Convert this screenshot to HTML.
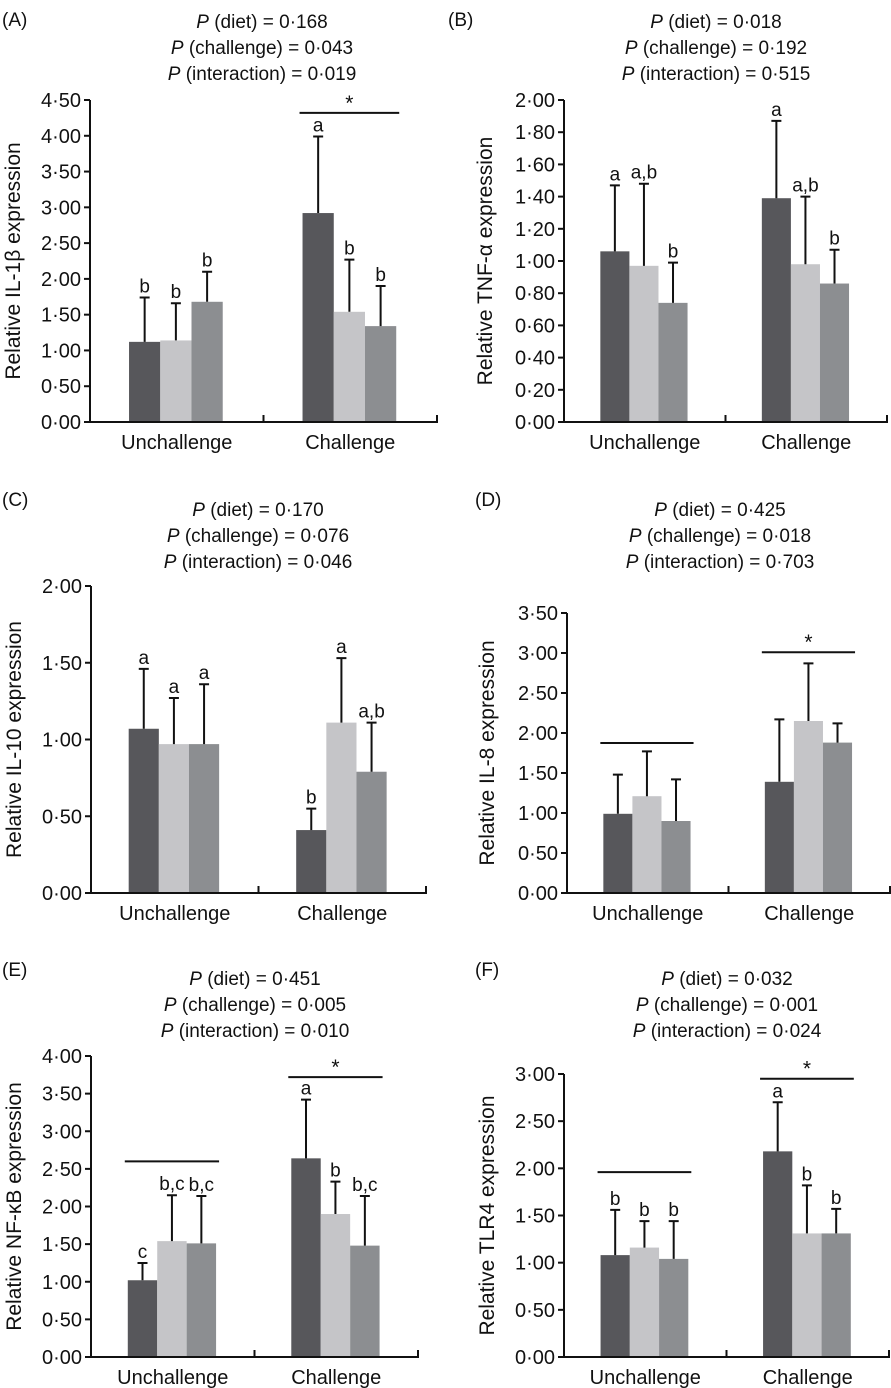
<!DOCTYPE html>
<html><head><meta charset="utf-8">
<style>
html,body{margin:0;padding:0;background:#fff;}
svg{display:block;font-family:"Liberation Sans",Arial,sans-serif;}
</style></head>
<body>
<svg id="fig" width="891" height="1388" viewBox="0 0 891 1388" xmlns="http://www.w3.org/2000/svg"></svg>
<script>
// ---- data ----
const categories = ["Unchallenge", "Challenge"];
const aMeans = [1.12, 1.14, 1.68, 2.92, 1.54, 1.34];
const aUpper = [1.74, 1.66, 2.10, 3.99, 2.27, 1.90];
const aLetters = ["b","b","b","a","b","b"];
const aTicks = ["0·00","0·50","1·00","1·50","2·00","2·50","3·00","3·50","4·00","4·50"];
const aPvals = ["0·168","0·043","0·019"];

const bMeans = [1.06, 0.97, 0.74, 1.39, 0.98, 0.86];
const bUpper = [1.47, 1.48, 0.99, 1.87, 1.40, 1.07];
const bLetters = ["a","a,b","b","a","a,b","b"];
const bTicks = ["0·00","0·20","0·40","0·60","0·80","1·00","1·20","1·40","1·60","1·80","2·00"];
const bPvals = ["0·018","0·192","0·515"];

const cMeans = [1.07, 0.97, 0.97, 0.41, 1.11, 0.79];
const cUpper = [1.46, 1.27, 1.36, 0.55, 1.53, 1.11];
const cLetters = ["a","a","a","b","a","a,b"];
const cTicks = ["0·00","0·50","1·00","1·50","2·00"];
const cPvals = ["0·170","0·076","0·046"];

const dMeans = [0.99, 1.21, 0.90, 1.39, 2.15, 1.88];
const dUpper = [1.48, 1.77, 1.42, 2.17, 2.87, 2.12];
const dLetters = ["","","","","",""];
const dTicks = ["0·00","0·50","1·00","1·50","2·00","2·50","3·00","3·50"];
const dPvals = ["0·425","0·018","0·703"];

const eMeans = [1.02, 1.54, 1.51, 2.64, 1.90, 1.48];
const eUpper = [1.25, 2.15, 2.14, 3.42, 2.33, 2.14];
const eLetters = ["c","b,c","b,c","a","b","b,c"];
const eTicks = ["0·00","0·50","1·00","1·50","2·00","2·50","3·00","3·50","4·00"];
const ePvals = ["0·451","0·005","0·010"];

const fMeans = [1.08, 1.16, 1.04, 2.18, 1.31, 1.31];
const fUpper = [1.56, 1.44, 1.44, 2.70, 1.82, 1.57];
const fLetters = ["b","b","b","a","b","b"];
const fTicks = ["0·00","0·50","1·00","1·50","2·00","2·50","3·00"];
const fPvals = ["0·032","0·001","0·024"];

// significance lines: [groupIndex, value, hasStar]
const aSig = [[1, 4.32, true]];
const bSig = [];
const cSig = [];
const dSig = [[0, 1.875, false],[1, 3.01, true]];
const eSig = [[0, 2.60, false],[1, 3.72, true]];
const fSig = [[0, 1.96, false],[1, 2.95, true]];

// ---- layout (positions, not data) ----
const panels = [
 {id:"a",label:"(A)",title:"Relative IL-1\u03B2 expression",means:aMeans,upper:aUpper,letters:aLetters,ticks:aTicks,step:0.5,pv:aPvals,sig:aSig,
  x0:90,x1:437,yTop:100,yZero:422,lx:2,ly:26,tx:262,ty:28,yt:13},
 {id:"b",label:"(B)",title:"Relative TNF-\u03B1 expression",means:bMeans,upper:bUpper,letters:bLetters,ticks:bTicks,step:0.2,pv:bPvals,sig:bSig,
  x0:564,x1:887,yTop:100,yZero:422,lx:448,ly:26,tx:716,ty:28,yt:485},
 {id:"c",label:"(C)",title:"Relative IL-10 expression",means:cMeans,upper:cUpper,letters:cLetters,ticks:cTicks,step:0.5,pv:cPvals,sig:cSig,
  x0:91,x1:426,yTop:586,yZero:893,lx:2,ly:506,tx:258,ty:516,yt:14},
 {id:"d",label:"(D)",title:"Relative IL-8 expression",means:dMeans,upper:dUpper,letters:dLetters,ticks:dTicks,step:0.5,pv:dPvals,sig:dSig,
  x0:567,x1:890,yTop:613,yZero:893,lx:475,ly:506,tx:720,ty:516,yt:487},
 {id:"e",label:"(E)",title:"Relative NF-\u03BAB expression",means:eMeans,upper:eUpper,letters:eLetters,ticks:eTicks,step:0.5,pv:ePvals,sig:eSig,
  x0:91,x1:418,yTop:1056,yZero:1357,lx:2,ly:976,tx:255,ty:985,yt:14},
 {id:"f",label:"(F)",title:"Relative TLR4 expression",means:fMeans,upper:fUpper,letters:fLetters,ticks:fTicks,step:0.5,pv:fPvals,sig:fSig,
  x0:564,x1:889,yTop:1074,yZero:1357,lx:475,ly:976,tx:727,ty:985,yt:487}
];
const colors = ["#57575b","#c5c5c8","#8c8e91"];
const NS = "http://www.w3.org/2000/svg";
const svg = document.getElementById("fig");

function mk(tag, attrs, parent, text){
  const el = document.createElementNS(NS, tag);
  for (const k in attrs) el.setAttribute(k, attrs[k]);
  if (text !== undefined) el.textContent = text;
  parent.appendChild(el);
  return el;
}

panels.forEach(p => {
  const g = mk("g", {}, svg);
  
  
  const maxV = (p.ticks.length - 1) * p.step;
  const y = v => p.yZero - v / maxV * (p.yZero - p.yTop);
  const gw = (p.x1 - p.x0) / 2;
  const bw = gw * 0.18;
  const barX = i => p.x0 + Math.floor(i / 3) * gw + gw * 0.225 + (i % 3) * bw;

  const lab = mk("text", {x:p.lx, y:p.ly, "font-size":19, fill:"#111"}, g, p.label);
  
  

  const names = ["diet","challenge","interaction"];
  names.forEach((n, k) => {
    const t = mk("text", {x:p.tx, y:p.ty + k * 26, "font-size":19, "text-anchor":"middle", fill:"#111"}, g);
    
    
    mk("tspan", {"font-style":"italic"}, t, "P");
    mk("tspan", {}, t, " (" + n + ") = " + p.pv[k]);
  });

  p.means.forEach((m, i) => {
    const bx = barX(i);
    const r = mk("rect", {x:bx, y:y(m), width:bw, height:p.yZero - y(m), fill:colors[i % 3]}, g);
    
    
    const cx = bx + bw / 2;
    const e = mk("path", {d:"M" + cx + "," + y(m) + "V" + y(p.upper[i]) + "M" + (cx - 5) + "," + y(p.upper[i]) + "H" + (cx + 5), stroke:"#111", "stroke-width":2, fill:"none"}, g);
    
    
    if (p.letters[i]) {
      const lt = mk("text", {x:cx, y:y(p.upper[i]) - 5, "font-size":19, "text-anchor":"middle", fill:"#111"}, g, p.letters[i]);
      
      
    }
  });

  p.sig.forEach(s => {
    const gx0 = barX(s[0] * 3) - 3, gx1 = barX(s[0] * 3 + 2) + bw + 3;
    const l = mk("line", {x1:gx0, x2:gx1, y1:y(s[1]), y2:y(s[1]), stroke:"#111", "stroke-width":2}, g);
    
    
    if (s[2]) {
      const st = mk("text", {x:(gx0 + gx1) / 2, y:y(s[1]) - 3, "font-size":21, "text-anchor":"middle", fill:"#111"}, g, "*");
      
      
    }
  });

  const ax = mk("path", {d:"M" + p.x0 + "," + p.yTop + "V" + p.yZero + "H" + p.x1 + "V" + (p.yZero - 7) +
     "M" + (p.x0 + gw) + "," + p.yZero + "V" + (p.yZero - 7), stroke:"#111", "stroke-width":2, fill:"none"}, g);
  
  
  p.ticks.forEach((t, k) => {
    const yy = y(k * p.step);
    const tk = mk("line", {x1:p.x0 - 6, x2:p.x0, y1:yy, y2:yy, stroke:"#111", "stroke-width":2}, g);
    
    
    const tl = mk("text", {x:p.x0 - 9, y:yy + 7, "font-size":20, "text-anchor":"end", fill:"#111"}, g, t);
    
    
  });
  categories.forEach((c, k) => {
    const cl = mk("text", {x:p.x0 + gw * (k + 0.5), y:p.yZero + 27, "font-size":20, "text-anchor":"middle", fill:"#111"}, g, c);
    
    
  });
  const yc = (p.yTop + p.yZero) / 2;
  const yt = mk("text", {x:p.yt, y:yc, "font-size":21, "text-anchor":"middle", fill:"#111", transform:"rotate(-90 " + p.yt + " " + yc + ")", dy:"7"}, g, p.title);
  
  
});
</script>
</body></html>
